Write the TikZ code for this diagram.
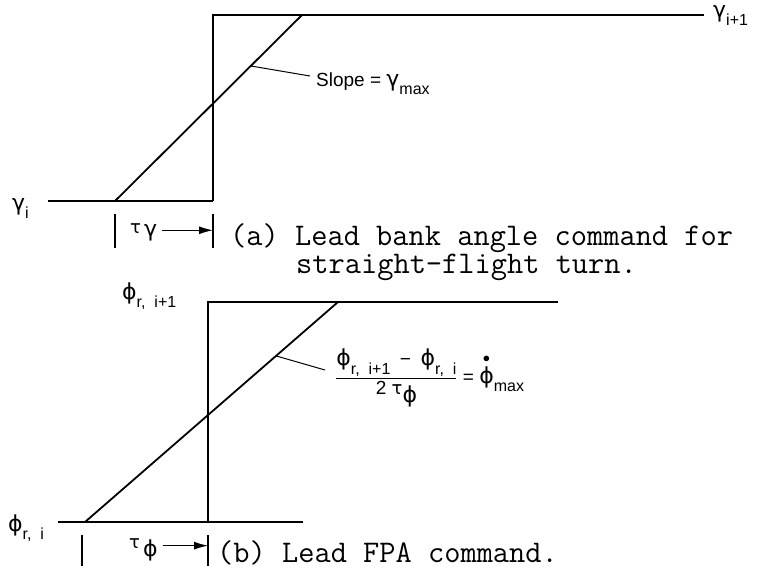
\documentclass[tikz,border=0pt]{standalone}
\usepackage{amsmath}
\usepackage{fontspec}
\usetikzlibrary{arrows.meta,positioning}
\newfontfamily\lblfont{Liberation Sans}
\newfontfamily\grkfont{DejaVu Sans}
\newcommand{\gr}[1]{{\grkfont\fontsize{22}{22}\selectfont #1}}
\newcommand{\grs}[1]{{\grkfont\fontsize{18}{18}\selectfont #1}}
\newcommand{\lsub}[1]{\raisebox{-0.45em}{\fontsize{16}{16}\selectfont #1}}
\newcommand{\lowgr}[2]{\raisebox{#1}{\gr{#2}}}
\tikzset{
	stepline/.style={line width=1.6pt},
	ramp/.style={line width=1.8pt},
	refline/.style={line width=1.3pt},
	leader/.style={line width=1pt},
	tickline/.style={line width=1.4pt},
	dimarrow/.style={line width=1.2pt,-{Latex[length=14pt,width=8pt]}},
	lbl/.style={font=\lblfont\fontsize{19}{21}\selectfont,inner sep=0pt},
	captext/.style={font=\ttfamily\fontsize{31.5}{34}\selectfont\addfontfeatures{FakeBold=1.2},inner sep=0pt,anchor=base west}
}

\begin{document}
\begin{tikzpicture}[x=1pt,y=-1pt]
	\useasboundingbox (0,0) rectangle (761,571);
	
	% -------------------------------------------------
	% (a) flight path angle step and lead ramp
	% -------------------------------------------------
	\coordinate (a0) at (48,201);
	\coordinate (a1) at (213,201);
	\coordinate (a2) at (213,15);
	\coordinate (a3) at (704,15);
	\coordinate (ra0) at (115,201);
	\coordinate (ra1) at (302,15);
	\draw[refline] (a0) -- (a1);
	\draw[stepline] (a1) -- (a2) -- (a3);
	\draw[ramp] (ra0) -- (ra1) coordinate[pos=0.726] (ra);
	
	\node[lbl,anchor=base west] (gi1) at (713,17) {\gr{γ}\lsub{i+1}};
	\node[lbl,anchor=base west] (gi) at (12,210) {\gr{γ}\lsub{i}};
	
	% slope label
	\node[lbl,anchor=base west] (slope) at (316,86) {Slope = \gr{γ}\lsub{max}};
	\coordinate (la) at (310,76);
	\draw[leader] (ra) -- (la);
	
	% lead time
	\coordinate (ta0) at (115,214);
	\coordinate (ta1) at (213,214);
	\draw[tickline] (ta0) -- ++(0,34);
	\draw[tickline] (ta1) -- ++(0,34);
	\node[lbl,anchor=base west] (taug) at (130,233) {\grs{τ}\,\lowgr{-0.2em}{γ}};
	\coordinate (tge) at ([xshift=5pt,yshift=2pt]taug.east);
	\draw[dimarrow] (tge) -- (tge -| ta1);
	
	\node[captext] (capa) at (230,245) {(a) Lead bank angle command for};
	\node[captext] (capa2) at (296,273) {straight-flight turn.};
	
	% -------------------------------------------------
	% (b) FPA step and lead ramp
	% -------------------------------------------------
	\coordinate (b0) at (58,522);
	\coordinate (b1) at (208,522);
	\coordinate (b2) at (208,302);
	\coordinate (b3) at (303,522);
	\coordinate (b4) at (558,302);
	\coordinate (rb0) at (85,522);
	\coordinate (rb1) at (338,302);
	\draw[refline] (b0) -- (b3);
	\draw[refline] (b1) -- (b2) -- (b4);
	\draw[ramp] (rb0) -- (rb1) coordinate[pos=0.755] (rb);
	
	\node[lbl,anchor=base west] (fri1) at (122,299) {\gr{ϕ}\lsub{r,\ \ i+1}};
	\node[lbl,anchor=base west] (fri) at (8,531) {\gr{ϕ}\lsub{r,\ \ i}};
	
	% rate label
	\node[lbl,anchor=base west] (rate) at (335,383)
	{$\dfrac{\text{\gr{ϕ}\lsub{r,\ \ i+1}\enspace−\enspace\gr{ϕ}\lsub{r,\ \ i}}}{\text{2 \grs{τ}\lowgr{-0.4em}{ϕ}}}\text{ = }\overset{\bullet}{\text{\gr{ϕ}}}\text{\lsub{max}}$};
	\coordinate (lb) at (325,370);
	\draw[leader] (rb) -- (lb);
	
	% lead time
	\coordinate (tb0) at (82,535);
	\coordinate (tb1) at (208,535);
	\draw[tickline] (tb0) -- ++(0,31);
	\draw[tickline] (tb1) -- ++(0,31);
	\node[lbl,anchor=base west] (tauf) at (129,548) {\grs{τ}\,\lowgr{-0.45em}{ϕ}};
	\coordinate (tfe) at ([xshift=5pt,yshift=4pt]tauf.east);
	\draw[dimarrow] (tfe) -- (tfe -| tb1);
	
	\node[captext] (capb) at (217,562) {(b) Lead FPA command.};
	
\end{tikzpicture}
\end{document}
